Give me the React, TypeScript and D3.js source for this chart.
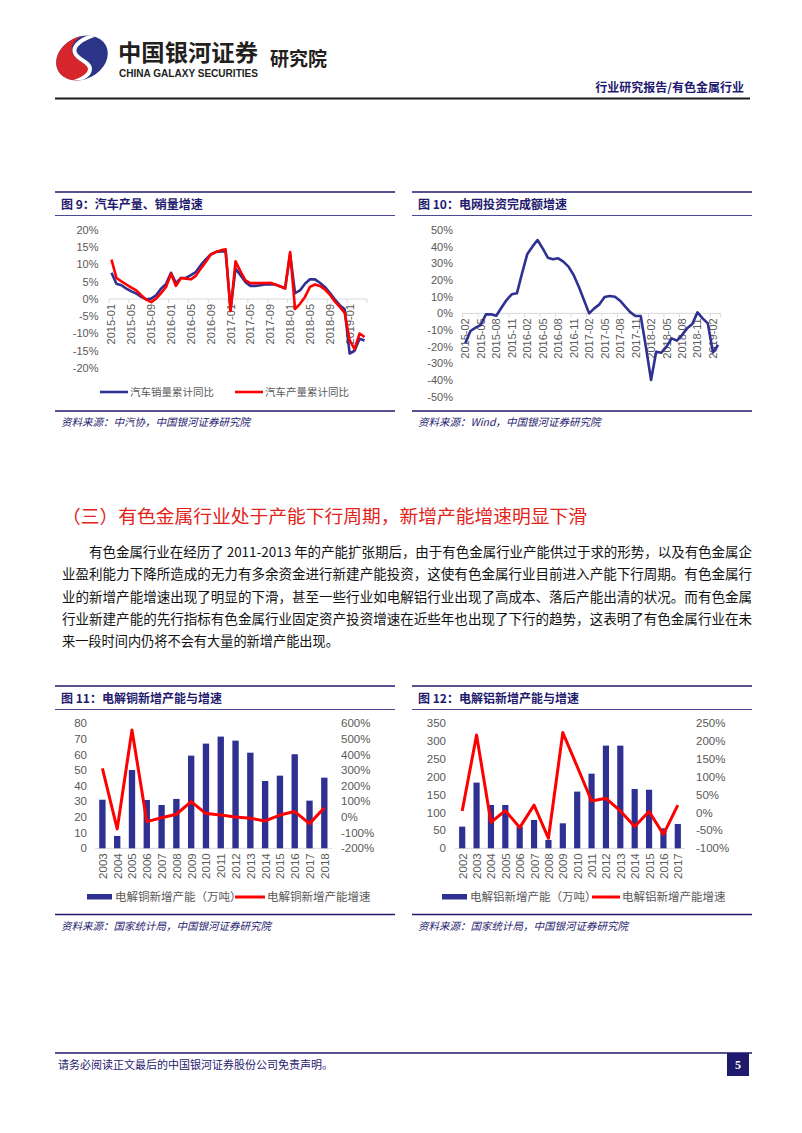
import React from "react";
import * as d3 from "d3";

// ---------- DATA ----------
const months9: string[] = (() => {
  const out: string[] = [];
  for (let y = 2015; y <= 2019; y++)
    for (let m = 1; m <= 12; m++) {
      if (y === 2019 && m > 4) break;
      out.push(`${y}-${String(m).padStart(2, "0")}`);
    }
  return out;
})();
const autoSales = [
  7.6, 4.4, 4.0, 3.0, 2.2, 1.6, 0.6, -0.1, 0.1, 1.1, 3.0, 4.4,
  7.6, 4.6, 6.1, 6.1, 6.9, 7.8, 9.8, 11.5, 12.9, 13.6, 13.8, 13.8,
  -3.0, 8.8, 6.9, 4.9, 3.8, 3.8, 4.0, 4.2, 4.3, 4.2, 3.6, 3.2,
  13.0, 1.7, 2.5, 4.4, 5.7, 5.7, 4.7, 3.5, 1.8, -0.1, -1.8, -3.0,
  -15.8, -15.0, -11.5, -12.0,
];
const autoProd = [
  11.4, 6.1, 5.1, 4.2, 3.3, 2.5, 1.1, -0.2, -0.9, 0.1, 1.7, 3.5,
  7.3, 3.8, 6.1, 5.9, 5.7, 6.7, 8.8, 10.7, 12.9, 13.6, 14.1, 14.4,
  -3.5, 10.9, 8.0, 5.4, 4.6, 4.6, 4.6, 4.6, 4.7, 4.2, 3.7, 3.0,
  13.6, -2.9, -1.4, 0.6, 3.5, 4.2, 3.8, 2.8, 1.3, -0.7, -2.3, -4.0,
  -12.0, -14.5, -10.0, -11.0,
];
const ticks9 = [-20, -15, -10, -5, 0, 5, 10, 15, 20];

const months10: string[] = (() => {
  const out: string[] = [];
  for (let y = 2015; y <= 2019; y++)
    for (let m = 1; m <= 12; m++) {
      if (y === 2015 && m < 2) continue;
      if (y === 2019 && m > 3) break;
      out.push(`${y}-${String(m).padStart(2, "0")}`);
    }
  return out;
})();
const gridInvest = [
  -18, -10.6, -8.6, -7, -0.6, -0.6, -1.4, 3.4, 8, 11.4, 12,
  24, 35.4, 40, 44, 39, 33.4, 32.4, 33, 31, 28, 23, 16,
  8, 0, 3, 5.4, 9.8, 10.4, 10, 7.6, 4, 0.6, -1.6, -1.6,
  -20, -40, -23, -23.6, -20, -15, -16.4, -13, -9, -6.4, 0.6, -3,
  -6, -23.5, -19,
];
const ticks10 = [-50, -40, -30, -20, -10, 0, 10, 20, 30, 40, 50];

const years11 = ["2003","2004","2005","2006","2007","2008","2009","2010","2011","2012","2013","2014","2015","2016","2017","2018"];
const copperCap = [31.1, 7.9, 50.1, 30.9, 27.7, 31.6, 59.3, 67, 71.5, 68.9, 61.2, 43.1, 46.5, 60.2, 30.5, 45.2];
const copperGrowth = [312, -76, 557, -29, -4, 18, 99, 22, 13, 1, -8, -25, 13, 35, -42, 60];
const ticks11L = [0, 10, 20, 30, 40, 50, 60, 70, 80];
const ticks11R = [-200, -100, 0, 100, 200, 300, 400, 500, 600];

const years12 = ["2002","2003","2004","2005","2006","2007","2008","2009","2010","2011","2012","2013","2014","2015","2016","2017"];
const alumCap = [60.7, 184, 121.3, 121.3, 61, 79.3, 23.3, 70, 158.7, 209, 287.5, 287.5, 166, 164, 56, 68];
const alumGrowth = [4.5, 217, -27, 5.5, -42, 21, -72, 224, 129, 32.5, 40, 4.5, -39, 3, -61, 21];
const ticks12L = [0, 50, 100, 150, 200, 250, 300, 350];
const ticks12R = [-100, -50, 0, 50, 100, 150, 200, 250];

const paraLines = [
  "有色金属行业在经历了 2011-2013 年的产能扩张期后，由于有色金属行业产能供过于求的形势，以及有色金属企",
  "业盈利能力下降所造成的无力有多余资金进行新建产能投资，这使有色金属行业目前进入产能下行周期。有色金属行",
  "业的新增产能增速出现了明显的下滑，甚至一些行业如电解铝行业出现了高成本、落后产能出清的状况。而有色金属",
  "行业新建产能的先行指标有色金属行业固定资产投资增速在近些年也出现了下行的趋势，这表明了有色金属行业在未",
  "来一段时间内仍将不会有大量的新增产能出现。",
];

// ---------- STYLE ----------
const NUM = "'Liberation Sans', Arial, sans-serif";
const CJK = "'Noto Sans CJK SC', sans-serif";
const NAVY = "#1f1a6e";
const BLUE = "#2e3192";
const RED = "#ff0000";
const GRAY = "#595959";
const AXIS = "#d9d9d9";

function Frame({ x0, x1, top, bottom, title, source }: any) {
  return (
    <g>
      <line x1={x0} x2={x1} y1={top} y2={top} stroke={NAVY} strokeWidth={1.6} />
      <text x={x0 + 6} y={top + 17} fontFamily={CJK} fontWeight={700} fontSize={12} fill={NAVY}>{title}</text>
      <line x1={x0} x2={x1} y1={top + 23.5} y2={top + 23.5} stroke="#4a4a94" strokeWidth={1} />
      <line x1={x0} x2={x1} y1={bottom} y2={bottom} stroke={NAVY} strokeWidth={1.5} />
      <text x={x0 + 6} y={bottom + 15} fontFamily={CJK} fontStyle="italic" fontSize={10.5} fill={NAVY}>{source}</text>
    </g>
  );
}

function LineChart({ cats, series, colors, x0, x1, yTop, yBot, dom, ticks, labelX, every }: any) {
  const x = d3.scaleBand<number>().domain(d3.range(cats.length)).range([x0, x1]);
  const cx = (i: number) => (x(i) as number) + x.bandwidth() / 2;
  const y = d3.scaleLinear().domain(dom).range([yBot, yTop]);
  const line = d3.line<number>().x((_, i) => cx(i)).y((d) => y(d));
  return (
    <g>
      {ticks.map((t: number) => (
        <text key={t} x={labelX} y={y(t)} dy="0.35em" textAnchor="end" fontFamily={NUM} fontSize={11} fill={GRAY}>{`${t}%`}</text>
      ))}
      <line x1={x0} x2={x1} y1={y(0)} y2={y(0)} stroke={AXIS} strokeWidth={1} />
      {cats.map((c: string, i: number) =>
        i % every === 0 ? (
          <g key={c}>
            <line x1={x(i)} x2={x(i)} y1={y(0)} y2={y(0) + 4} stroke={AXIS} />
            <text transform={`translate(${cx(i) + 4},${y(0) + 5}) rotate(-90)`} textAnchor="end" fontFamily={NUM} fontSize={11} fill={GRAY}>{c}</text>
          </g>
        ) : null
      )}
      <line x1={x1} x2={x1} y1={y(0)} y2={y(0) + 4} stroke={AXIS} />
      {series.map((s: number[], k: number) => (
        <path key={k} d={line(s) as string} fill="none" stroke={colors[k]} strokeWidth={2.6} strokeLinejoin="round" />
      ))}
    </g>
  );
}

function ComboChart({ cats, bars, growth, x0, x1, yTop, yBot, domL, domR, ticksL, ticksR, labelLX, labelRX }: any) {
  const x = d3.scaleBand<string>().domain(cats).range([x0, x1]);
  const cx = (c: string) => (x(c) as number) + x.bandwidth() / 2;
  const yL = d3.scaleLinear().domain(domL).range([yBot, yTop]);
  const yR = d3.scaleLinear().domain(domR).range([yBot, yTop]);
  const bw = x.bandwidth() * 0.43;
  const line = d3.line<number>().x((_, i) => cx(cats[i])).y((d) => yR(d));
  return (
    <g>
      {ticksL.map((t: number) => (
        <text key={"l" + t} x={labelLX} y={yL(t)} dy="0.35em" textAnchor="end" fontFamily={NUM} fontSize={11.5} fill={GRAY}>{t}</text>
      ))}
      {ticksR.map((t: number) => (
        <text key={"r" + t} x={labelRX} y={yR(t)} dy="0.35em" textAnchor="start" fontFamily={NUM} fontSize={11.5} fill={GRAY}>{`${t}%`}</text>
      ))}
      <line x1={x0} x2={x1} y1={yBot} y2={yBot} stroke={AXIS} />
      {cats.map((c: string, i: number) => (
        <g key={c}>
          <rect x={cx(c) - bw / 2} y={yL(bars[i])} width={bw} height={yBot - yL(bars[i])} fill={BLUE} />
          <text transform={`translate(${cx(c) + 4.5},${yBot + 5}) rotate(-90)`} textAnchor="end" fontFamily={NUM} fontSize={11.5} fill={GRAY}>{c}</text>
        </g>
      ))}
      <path d={line(growth) as string} fill="none" stroke={RED} strokeWidth={3} strokeLinejoin="round" />
    </g>
  );
}

export default function App() {
  return (
    <svg width={802} height={1133} viewBox="0 0 802 1133" style={{ position: "absolute", left: 0, top: 0, background: "#fff" }}>
      <rect width={802} height={1133} fill="#fff" />
      <defs>
        <clipPath id="logoClip">
          <ellipse cx={82} cy={58} rx={27} ry={21} transform="rotate(-28 82 58)" />
        </clipPath>
      </defs>
      {/* Header */}
      <g clipPath="url(#logoClip)">
        <rect x={50} y={30} width={65} height={55} fill="#2b3487" />
        <path d="M50 30 L92 30 C78 36 70 44 72 52 C74 60 86 62 88 68 C90 76 80 84 68 88 L50 88 Z" fill="#d7262b" />
        <path d="M98 34 C82 38 72 46 75 53 C78 60 90 62 90 69 C90 76 80 80 68 84" fill="none" stroke="#fff" strokeWidth={4} />
      </g>
      <g>
        <text x={118} y={61} fontFamily={CJK} fontWeight={700} fontSize={23} fill="#231f20" textLength={140} lengthAdjust="spacingAndGlyphs">中国银河证券</text>
        <text x={119} y={77} fontFamily={NUM} fontWeight={700} fontSize={10.5} fill="#231f20" textLength={139} lengthAdjust="spacingAndGlyphs">CHINA GALAXY SECURITIES</text>
        <text x={270} y={66} fontFamily={CJK} fontWeight={700} fontSize={19} fill="#231f20" textLength={57}>研究院</text>
        <text x={744} y={92} textAnchor="end" fontFamily={CJK} fontWeight={700} fontSize={12} fill={NAVY}>行业研究报告/有色金属行业</text>
        <line x1={55} x2={750} y1={98.5} y2={98.5} stroke="#1a1a1a" strokeWidth={2} />
      </g>

      {/* Chart 9 */}
      <Frame x0={55} x1={395} top={192} bottom={411} title="图 9：汽车产量、销量增速" source="资料来源：中汽协，中国银河证券研究院" />
      <LineChart cats={months9} series={[autoSales, autoProd]} colors={[BLUE, RED]} x0={109} x1={367} yTop={230} yBot={368} dom={[-20, 20]} ticks={ticks9} labelX={98.5} every={4} />
      <g>
        <line x1={100} x2={128} y1={392} y2={392} stroke={BLUE} strokeWidth={2.6} />
        <text x={130} y={392} dy="0.35em" fontFamily={CJK} fontSize={10.5} fill={GRAY}>汽车销量累计同比</text>
        <line x1={235} x2={263} y1={392} y2={392} stroke={RED} strokeWidth={2.6} />
        <text x={265} y={392} dy="0.35em" fontFamily={CJK} fontSize={10.5} fill={GRAY}>汽车产量累计同比</text>
      </g>

      {/* Chart 10 */}
      <Frame x0={412} x1={752} top={192} bottom={411} title="图 10：电网投资完成额增速" source="资料来源：Wind，中国银河证券研究院" />
      <LineChart cats={months10} series={[gridInvest]} colors={[BLUE]} x0={462.7} x1={720.7} yTop={230} yBot={396.7} dom={[-50, 50]} ticks={ticks10} labelX={453} every={3} />

      {/* Section heading & paragraph */}
      <text x={62} y={523} fontFamily={CJK} fontSize={18} fill="#e2231a" textLength={525} lengthAdjust="spacingAndGlyphs">（三）有色金属行业处于产能下行周期，新增产能增速明显下滑</text>
      {paraLines.map((t, i) => (
        <text key={i} x={i === 0 ? 89 : 62} y={557 + i * 22.3} fontFamily={CJK} fontSize={13.2} fill="#111"
          {...(i < 4 ? { textLength: i === 0 ? 663 : 690, lengthAdjust: "spacingAndGlyphs" } : {})}>{t}</text>
      ))}

      {/* Chart 11 */}
      <Frame x0={55} x1={395} top={686} bottom={914.5} title="图 11：电解铜新增产能与增速" source="资料来源：国家统计局，中国银河证券研究院" />
      <ComboChart cats={years11} bars={copperCap} growth={copperGrowth} x0={95} x1={331.7} yTop={723.3} yBot={848.3} domL={[0, 80]} domR={[-200, 600]} ticksL={ticks11L} ticksR={ticks11R} labelLX={87} labelRX={341} />
      <g>
        <rect x={87} y={894} width={25} height={5.5} fill={BLUE} />
        <text x={115} y={897} dy="0.35em" fontFamily={CJK} fontSize={11.5} fill={GRAY}>电解铜新增产能（万吨）</text>
        <line x1={235} x2={265} y1={897} y2={897} stroke={RED} strokeWidth={3} />
        <text x={267} y={897} dy="0.35em" fontFamily={CJK} fontSize={11.5} fill={GRAY}>电解铜新增产能增速</text>
      </g>

      {/* Chart 12 */}
      <Frame x0={412} x1={752} top={686} bottom={914.5} title="图 12：电解铝新增产能与增速" source="资料来源：国家统计局，中国银河证券研究院" />
      <ComboChart cats={years12} bars={alumCap} growth={alumGrowth} x0={455} x1={685} yTop={723.3} yBot={848.3} domL={[0, 350]} domR={[-100, 250]} ticksL={ticks12L} ticksR={ticks12R} labelLX={446} labelRX={696} />
      <g>
        <rect x={442} y={894} width={25} height={5.5} fill={BLUE} />
        <text x={470} y={897} dy="0.35em" fontFamily={CJK} fontSize={11.5} fill={GRAY}>电解铝新增产能（万吨）</text>
        <line x1={592} x2={620} y1={897} y2={897} stroke={RED} strokeWidth={3} />
        <text x={622} y={897} dy="0.35em" fontFamily={CJK} fontSize={11.5} fill={GRAY}>电解铝新增产能增速</text>
      </g>

      {/* Footer */}
      <line x1={55} x2={752} y1={1053} y2={1053} stroke={NAVY} strokeWidth={1.5} />
      <text x={58} y={1069} fontFamily={CJK} fontSize={11} fill={NAVY}>请务必阅读正文最后的中国银河证券股份公司免责声明。</text>
      <rect x={727} y={1053} width={22} height={23} fill={NAVY} />
      <text x={738} y={1068.5} textAnchor="middle" fontFamily="'Liberation Serif', serif" fontWeight={700} fontSize={12} fill="#fff">5</text>
    </svg>
  );
}
